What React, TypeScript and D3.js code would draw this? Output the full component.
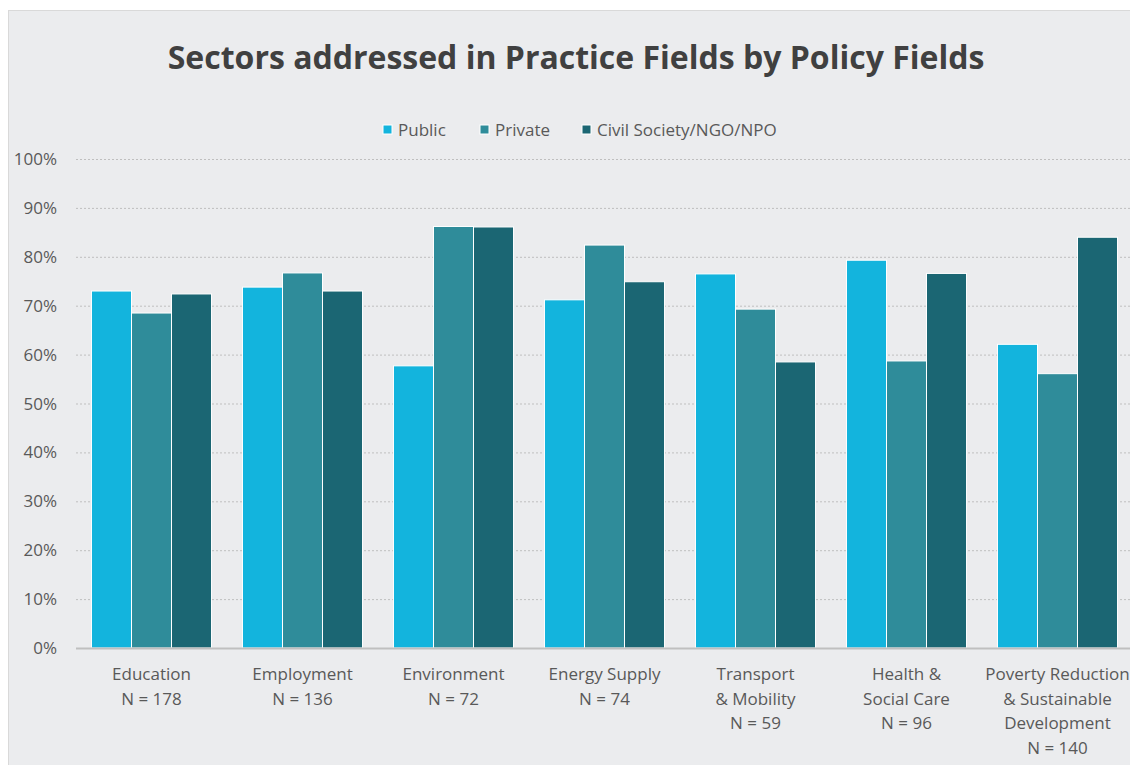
import React from "react";
import * as d3 from "d3";

const categories = [
  ["Education", "N = 178"],
  ["Employment", "N = 136"],
  ["Environment", "N = 72"],
  ["Energy Supply", "N = 74"],
  ["Transport", "& Mobility", "N = 59"],
  ["Health &", "Social Care", "N = 96"],
  ["Poverty Reduction", "& Sustainable", "Development", "N = 140"],
];
const seriesNames = ["Public", "Private", "Civil Society/NGO/NPO"];
const publicVals = [73.0, 73.8, 57.7, 71.2, 76.5, 79.3, 62.1];
const privateVals = [68.5, 76.7, 86.2, 82.4, 69.3, 58.7, 56.1];
const civilVals = [72.4, 73.0, 86.1, 74.9, 58.5, 76.6, 84.0];
const colors = ["#13B4DD", "#2F8C9A", "#1B6673"];
const yTicks = [0, 10, 20, 30, 40, 50, 60, 70, 80, 90, 100];

export default function App() {
  const W = 1130, H = 765;
  const left = 76, right = 76 + 7 * 151, top = 159, bottom = 648;
  const x0 = d3.scaleBand<number>().domain(d3.range(7)).range([left, right]).paddingInner(0.205).paddingOuter(0.1025);
  const x1 = d3.scaleBand<number>().domain([0, 1, 2]).range([0, x0.bandwidth()]);
  const y = d3.scaleLinear().domain([0, 100]).range([bottom, top]);
  const series = [publicVals, privateVals, civilVals];
  const font = "'Open Sans', Lato, sans-serif";
  const legendX = [383, 480, 582];
  return (
    <svg width={W} height={H} style={{ display: "block", position: "absolute", left: 0, top: 0 }}>
      <rect x={0} y={0} width={W} height={H} fill="#FFFFFF" />
      <rect x={8.5} y={10.5} width={W + 10} height={H + 10} fill="#EBECEE" stroke="#D9D9D9" />
      <text x={576} y={69} textAnchor="middle" fontFamily={font} fontWeight={700} fontSize={32} fill="#404040">
        Sectors addressed in Practice Fields by Policy Fields
      </text>
      {seriesNames.map((s, i) => (
        <g key={s}>
          <rect x={legendX[i]} y={125} width={9} height={9} fill={colors[i]} stroke="#fff" strokeWidth={1} />
          <text x={legendX[i] + 15} y={136} fontFamily={font} fontSize={17} fill="#595959">{s}</text>
        </g>
      ))}
      {yTicks.map((t) => (
        <g key={t}>
          {t > 0 && (
            <line x1={left} x2={W} y1={y(t) + 0.5} y2={y(t) + 0.5} stroke="#BFBFBF" strokeDasharray="2,2" strokeWidth={1} />
          )}
          <text x={57} y={y(t) + 6} textAnchor="end" fontFamily={font} fontSize={17} fill="#595959">{t}%</text>
        </g>
      ))}
      {series.map((vals, si) =>
        vals.map((v, ci) => (
          <rect
            key={`${si}-${ci}`}
            x={(x0(ci) as number) + (x1(si) as number)}
            y={y(v)}
            width={x1.bandwidth()}
            height={bottom - y(v)}
            fill={colors[si]}
            stroke="#fff"
            strokeWidth={1}
          />
        ))
      )}
      <line x1={left} x2={W} y1={bottom + 0.5} y2={bottom + 0.5} stroke="#BFBFBF" strokeWidth={2} />
      {categories.map((lines, ci) => (
        <text key={ci} x={(x0(ci) as number) + x0.bandwidth() / 2} textAnchor="middle" fontFamily={font} fontSize={17} fill="#595959">
          {lines.map((l, li) => (
            <tspan key={li} x={(x0(ci) as number) + x0.bandwidth() / 2} y={680 + li * 24.5}>{l}</tspan>
          ))}
        </text>
      ))}
    </svg>
  );
}
